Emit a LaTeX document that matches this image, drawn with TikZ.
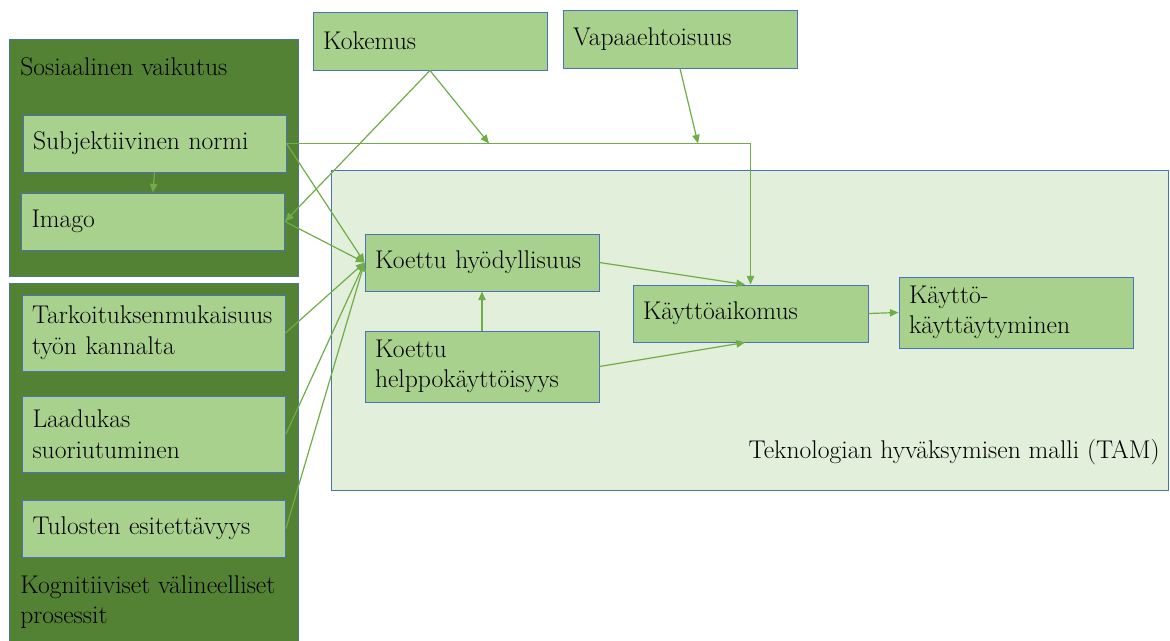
\documentclass[tikz,border=0pt]{standalone}
\usepackage{fontspec}
\usetikzlibrary{arrows.meta}

\definecolor{groupgreen}{HTML}{548235}
\definecolor{boxgreen}{HTML}{A9D18E}
\definecolor{tamfill}{HTML}{E2EFDA}
\definecolor{frameblue}{HTML}{4A72B8}
\definecolor{linkgreen}{HTML}{70AD47}

\begin{document}
\begin{tikzpicture}[x=0.75pt,y=-0.75pt,
  every node/.style={font=\fontsize{19.2pt}{23pt}\selectfont},
  box/.style={draw=frameblue, line width=0.7pt, fill=boxgreen,
              inner xsep=7.5pt, inner ysep=0pt, align=left, anchor=center},
  leftbox/.style={box, text width=182.25pt},
  midbox/.style={box, text width=160.5pt},
  group/.style={draw=frameblue!70!groupgreen, line width=0.6pt, fill=groupgreen},
  link/.style={draw=linkgreen, line width=0.9pt,
               -{Triangle[length=6.5pt,width=5.5pt]}},
  caption/.style={inner sep=0pt, align=left}]

\clip (0,0) rectangle (1170,640);
\fill[white] (0,0) rectangle (1170,640);

% group backgrounds
\path[group] (9,39) rectangle (298,276);
\path[group] (9,283) rectangle (298,660);
\path[draw=frameblue, line width=0.7pt, fill=tamfill] (331,170) rectangle (1168,490);

% group captions
\node[caption, anchor=base west] (socialcap) at (20,75) {Sosiaalinen vaikutus};
\node[caption, anchor=west] (cogcap) at (20,602) {Kognitiiviset välineelliset\\prosessit};
\node[caption, anchor=east] (tamcap) at (1160,452) {Teknologian hyväksymisen malli (TAM)};

% left column
\node[leftbox, minimum height=42.75pt] (subj) at (154.5,143.5) {Subjektiivinen normi};
\node[leftbox, minimum height=42.75pt] (imago) at (153,221.5) {Imago};
\node[leftbox, minimum height=57pt] (tark) at (153.5,333) {Tarkoituksenmukaisuus\\työn kannalta};
\node[leftbox, minimum height=57pt] (laad) at (154,434) {Laadukas\\suoriutuminen};
\node[leftbox, minimum height=42.75pt] (tul) at (154,528.5) {Tulosten esitettävyys};

% moderators on top
\node[midbox, minimum height=43.5pt] (kok) at (430,41) {Kokemus};
\node[midbox, minimum height=43.5pt] (vap) at (680,39) {Vapaaehtoisuus};

% TAM core
\node[midbox, minimum height=42.75pt] (kh) at (482,262.5) {Koettu hyödyllisuus};
\node[midbox, minimum height=53.25pt] (help) at (482,366.5) {Koettu\\helppokäyttöisyys};
\node[box, text width=161.25pt, minimum height=42.75pt] (kai) at (750.5,313.5) {Käyttöaikomus};
\node[midbox, minimum height=53.25pt] (kkt) at (1016,312.5) {Käyttö-\\käyttäytyminen};

% connectors
\coordinate (corner) at (750.5,143.5);
\coordinate (kokhit) at (489,143.5);
\coordinate (vaphit) at (698,143.5);

\draw[link] (subj.east) -- (corner) -- (kai.north);
\draw[link] (kok.south) -- (kokhit);
\draw[link] (vap.south) -- (vaphit);
\draw[link] (kok.south) -- (imago.east);
\draw[link] (subj.south) -- (imago.north);
\draw[link] (subj.east) -- (kh.west);
\draw[link] (imago.east) -- (kh.west);
\draw[link] (tark.east) -- (kh.west);
\draw[link] (laad.east) -- (kh.west);
\draw[link] (tul.east) -- (kh.west);
\draw[link] (help.north) -- (kh.south);
\draw[link] (kh.east) -- ([xshift=-4.1pt]kai.north);
\draw[link] (help.east) -- ([xshift=-4.1pt]kai.south);
\draw[link] (kai.east) -- (kkt.west);

\end{tikzpicture}
\end{document}
